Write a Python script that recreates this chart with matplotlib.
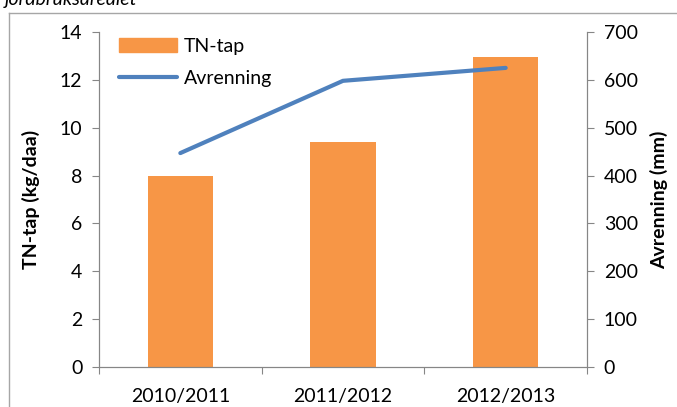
import matplotlib.pyplot as plt
from matplotlib.patches import Rectangle
from matplotlib.lines import Line2D

years = ['2010/2011', '2011/2012', '2012/2013']
tn_tap = [8.0, 9.4, 12.95]        # kg/daa
avrenning = [447, 598, 625]       # mm

orange = '#F79646'
blue = '#4F81BD'
grey = '#868686'

plt.rcParams['font.family'] = ['Lato', 'DejaVu Sans']
fs = 14

fig = plt.figure(figsize=(6.77, 4.07), dpi=100)
ax1 = fig.add_axes([99/677, 1-367/407, (587-99)/677, (367-32)/407])
ax2 = ax1.twinx()

#bars on left axis, line on right axis
x = list(range(len(years)))
ax1.bar(x, tn_tap, width=0.4, color=orange, label='TN-tap', zorder=2)
ax2.plot(x, avrenning, color=blue, lw=3, solid_capstyle='round', label='Avrenning')

ax1.set_xlim(-0.5, 2.5)
ax1.set_ylim(0, 14)
ax1.set_yticks(range(0, 15, 2))
ax2.set_ylim(0, 700)
ax2.set_yticks(range(0, 701, 100))

ax1.set_xticks([-0.5, 0.5, 1.5, 2.5], minor=False)
ax1.set_xticklabels([])
ax1.set_xticks(x, minor=True)
ax1.set_xticklabels(years, minor=True, fontsize=fs)
ax1.tick_params(axis='x', which='minor', length=0, pad=15)
ax1.tick_params(axis='x', which='major', length=5, color=grey, direction='out')
ax1.tick_params(axis='y', length=5, color=grey, labelsize=fs, pad=7)
ax2.tick_params(axis='y', length=5, color=grey, labelsize=fs, pad=7)

for ax in (ax1, ax2):
    ax.spines['top'].set_visible(False)
    for s in ('left', 'right', 'bottom'):
        ax.spines[s].set_color(grey)

ax1.set_ylabel('TN-tap (kg/daa)', fontsize=fs, fontweight='bold', labelpad=14)
ax2.set_ylabel('Avrenning (mm)', fontsize=fs, fontweight='bold', labelpad=9)

handles = [Rectangle((0, 0), 1, 1, color=orange),
           Line2D([], [], color=blue, lw=3, solid_capstyle='round')]
ax1.legend(handles, ['TN-tap', 'Avrenning'], loc='upper left', frameon=False,
           fontsize=fs, handlelength=3.0, handleheight=0.75, labelspacing=0.75,
           handletextpad=0.35, borderaxespad=0, bbox_to_anchor=(0.025, 1.005))

# chart frame (top and left edges visible) and cut-off title
frame_top = 1 - 12.5/407
frame_left = 8.5/677
fig.add_artist(Line2D([frame_left, 1], [frame_top, frame_top], transform=fig.transFigure,
                      color='#A6A6A6', lw=1))
fig.add_artist(Line2D([frame_left, frame_left], [0, frame_top], transform=fig.transFigure,
                      color='#A6A6A6', lw=1))
fig.text(5/677, 1 - 5/407, 'jordbruksarealet', fontsize=fs, style='italic', va='baseline')

fig.savefig('out.png', dpi=100)
